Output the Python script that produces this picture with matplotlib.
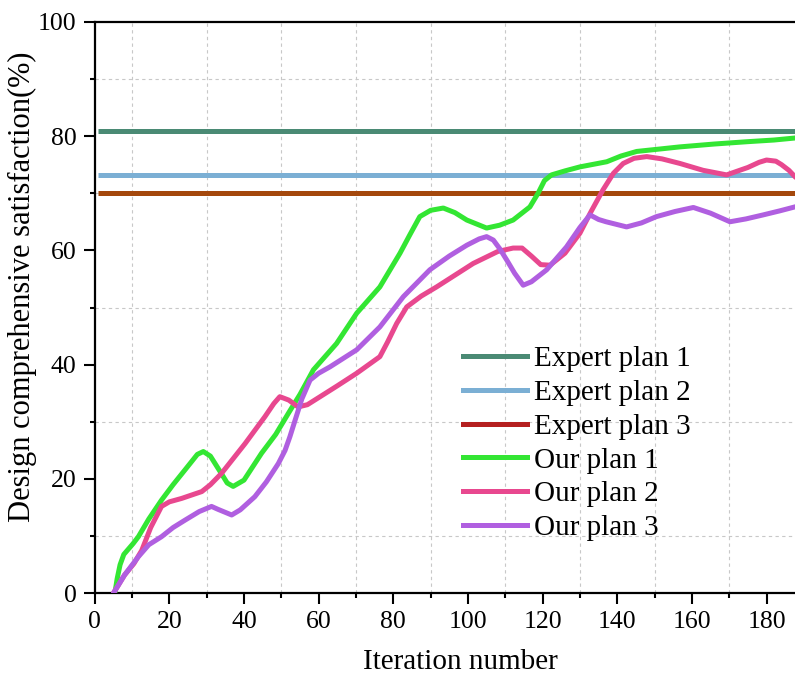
import matplotlib
matplotlib.use("Agg")
import matplotlib.pyplot as plt
from matplotlib.lines import Line2D
from matplotlib.ticker import MultipleLocator

plt.rcParams["font.family"] = ["Liberation Serif", "DejaVu Serif"]

# Reference levels of the expert plans (%)
expert_labels = ["Expert plan 1", "Expert plan 2", "Expert plan 3"]
expert_values = [80.8, 73.1, 70.1]
expert_start = 1.0

# Our plans: iteration number vs. design comprehensive satisfaction (%)
plan1_x = [5.4, 6.0, 6.8, 7.8, 10.3, 11.7, 14.5, 17.9, 21.0, 24.2, 27.5, 29.1, 31.0, 33.6,
           35.5, 37.1, 40.0, 44.7, 48.5, 51.9, 55.0, 58.6, 64.8, 70.2, 76.4, 81.8, 84.5,
           87.1, 90.0, 93.4, 96.5, 99.7, 105.0, 108.5, 112.1, 116.6, 118.8, 120.5, 122.4,
           126.0, 130.0, 137.2, 141.0, 145.2, 156.8, 166.0, 174.7, 182.0, 190.0]
plan1_y = [0.0, 2.5, 5.0, 6.8, 8.7, 9.9, 13.0, 16.3, 19.0, 21.6, 24.3, 24.8, 24.0, 21.3,
           19.3, 18.7, 19.8, 24.5, 27.8, 31.5, 34.8, 39.1, 43.7, 49.0, 53.6, 59.5, 62.8,
           65.9, 67.0, 67.4, 66.6, 65.3, 63.9, 64.4, 65.3, 67.6, 70.0, 72.2, 73.2,
           73.9, 74.6, 75.5, 76.5, 77.3, 78.1, 78.6, 79.0, 79.3, 79.8]

plan2_x = [5.0, 8.0, 10.5, 12.6, 15.0, 17.9, 20.0, 23.3, 28.7, 31.0, 34.0, 40.3, 45.6, 48.0,
           49.6, 52.0, 54.5, 57.0, 60.4, 65.0, 70.2, 76.4, 78.5, 80.9, 83.6, 87.5, 91.6,
           101.4, 108.0, 112.1, 114.5, 117.0, 119.5, 122.0, 126.0, 130.0, 133.0, 136.2,
           139.0, 141.6, 144.5, 147.9, 152.0, 156.8, 163.0, 169.3, 175.0, 178.0, 180.0,
           182.5, 184.0, 186.0, 187.6, 190.0]
plan2_y = [0.0, 3.2, 5.2, 7.5, 11.5, 15.2, 16.0, 16.6, 17.8, 19.0, 21.0, 26.2, 30.9, 33.2,
           34.4, 33.8, 32.6, 33.0, 34.4, 36.3, 38.5, 41.4, 44.0, 47.2, 50.1, 52.0, 53.6,
           57.7, 59.8, 60.4, 60.4, 59.0, 57.5, 57.4, 59.5, 63.0, 66.8, 70.6,
           73.5, 75.2, 76.1, 76.4, 76.0, 75.2, 74.0, 73.2, 74.5, 75.4, 75.8,
           75.6, 75.0, 74.0, 72.9, 71.5]

plan3_x = [5.0, 8.0, 11.7, 14.5, 17.9, 21.0, 24.2, 28.0, 31.3, 33.0, 36.7, 39.0, 42.9, 46.0,
           49.2, 51.0, 52.3, 53.7, 55.5, 57.7, 60.0, 63.0, 70.2, 76.4, 82.7, 89.8, 95.0,
           99.7, 103.0, 105.0, 106.8, 108.5, 110.4, 112.5, 114.8, 117.0, 121.1, 126.4,
           130.0, 132.7, 135.0, 137.0, 142.5, 146.5, 150.5, 155.5, 160.4, 165.0, 170.2,
           174.5, 179.1, 183.5, 187.6, 190.0]
plan3_y = [0.0, 3.2, 6.4, 8.5, 9.9, 11.5, 12.8, 14.3, 15.2, 14.7, 13.7, 14.6, 16.9, 19.5,
           22.7, 25.0, 27.4, 30.3, 34.0, 37.3, 38.5, 39.6, 42.6, 46.6, 51.9, 56.6, 59.0,
           60.9, 62.0, 62.4, 61.8, 60.3, 58.3, 56.0, 53.9, 54.5, 56.6, 60.6,
           64.0, 66.2, 65.4, 65.0, 64.1, 64.8, 65.9, 66.8, 67.5, 66.5, 65.0,
           65.5, 66.2, 66.9, 67.6, 68.0]

our_labels = ["Our plan 1", "Our plan 2", "Our plan 3"]

expert_colors = ["#4a8a74", "#7bafd4", "#a4480c"]
expert_legend_colors = ["#4a8a74", "#7bafd4", "#b52020"]
our_colors = ["#33e633", "#e8488f", "#b05fe0"]

W, H = 795, 675
fig = plt.figure(figsize=(W / 100, H / 100), dpi=100)
x0, x1, y0, y1 = 94.7, 827.0, 593.3, 21.7
ax = fig.add_axes([x0 / W, (H - y0) / H, (x1 - x0) / W, (y0 - y1) / H])

xmax = 196.2
ax.set_xlim(0, xmax)
ax.set_ylim(0, 100)

lw = 3.6
for val, col in zip(expert_values, expert_colors):
    ax.hlines(val, expert_start, xmax, colors=col, linewidth=lw, zorder=3)

for xs, ys, col in zip([plan1_x, plan2_x, plan3_x], [plan1_y, plan2_y, plan3_y], our_colors):
    ax.plot(xs, ys, color=col, linewidth=lw, solid_joinstyle="round",
            solid_capstyle="round", zorder=4)

# Axes styling
ax.xaxis.set_major_locator(MultipleLocator(20))
ax.xaxis.set_minor_locator(MultipleLocator(10))
ax.yaxis.set_major_locator(MultipleLocator(20))
ax.yaxis.set_minor_locator(MultipleLocator(10))
ax.tick_params(which="major", direction="out", length=8, width=1.5,
               labelsize=18.5, pad=5, colors="black")
ax.tick_params(which="minor", direction="out", length=3.8, width=1.5)
for side in ["left", "bottom", "top"]:
    ax.spines[side].set_linewidth(1.6)
ax.spines["right"].set_visible(False)

ax.grid(which="minor", linestyle=(0, (3, 3)), color="#c8c8c8", linewidth=0.8)
ax.grid(which="major", visible=False)
ax.set_axisbelow(True)

ax.set_xlabel("Iteration number", fontsize=21, labelpad=11)
ax.set_ylabel("Design comprehensive satisfaction(%)", fontsize=22)
ax.yaxis.set_label_coords(37 / W, 1 - 287 / H, transform=fig.transFigure)

handles = [Line2D([], [], color=c, linewidth=lw) for c in expert_legend_colors + our_colors]
leg = ax.legend(handles, expert_labels + our_labels, loc="upper left",
                bbox_to_anchor=(462.7 / W, 1 - 346 / H), bbox_transform=fig.transFigure,
                frameon=False, borderpad=0, borderaxespad=0, fontsize=21,
                handlelength=2.2, handletextpad=0.25, labelspacing=0.25)

fig.savefig("out.png", dpi=100)
